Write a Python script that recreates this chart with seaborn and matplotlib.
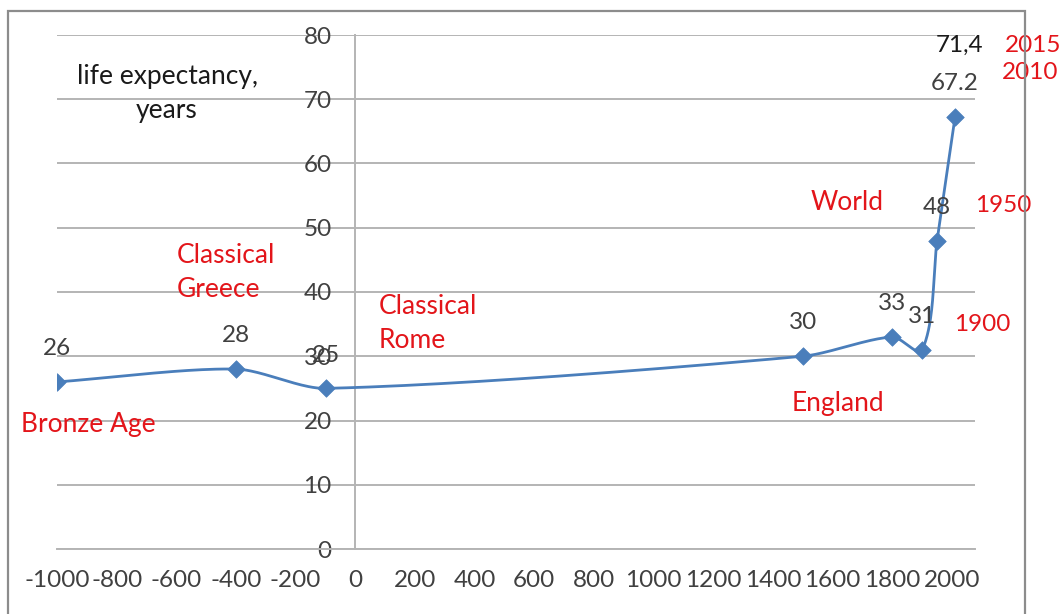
import numpy as np
import pandas as pd
import matplotlib
matplotlib.use("Agg")
import matplotlib.pyplot as plt
from matplotlib.patches import Rectangle
import seaborn as sns

# Life expectancy through history
years = [-1000, -400, -100, 1500, 1800, 1900, 1950, 2010]
life_expectancy = [26, 28, 25, 30, 33, 31, 48, 67.2]
value_labels = ["26", "28", "25", "30", "33", "31", "48", "67.2"]

latest_year = 2015
latest_value = 71.4
latest_label = "71,4"

x_ticks = list(range(-1000, 2001, 200))
y_ticks = list(range(0, 81, 10))

axis_title = "life expectancy,\nyears"
era_names = ["Bronze Age", "Classical\nGreece", "Classical\nRome", "England", "World"]
year_names = ["1900", "1950", "2010", "2015"]

sns.set_style("white")
plt.rcParams["font.family"] = ["Lato", "DejaVu Sans"]

LINE = "#4A7EBB"
RED = "#E3151A"
TXT = "#404040"
GRID = "#B4B4B4"
FS_NUM = 17.5
FS_WORD = 19

fig = plt.figure(figsize=(10.64, 6.14), dpi=100)
ax = fig.add_axes([57 / 1064, 1 - 549 / 614, (975 - 57) / 1064, (549 - 35) / 614])
ax.set_xlim(-1000, 2077)
ax.set_ylim(0, 80)

# spines: x axis at the bottom, y axis crossing at year 0
for side in ("top", "right"):
    ax.spines[side].set_visible(False)
ax.spines["left"].set_position(("data", 0))
for side in ("left", "bottom"):
    ax.spines[side].set_color(GRID)
    ax.spines[side].set_linewidth(1.4)
    ax.spines[side].set_zorder(1)

ax.set_xticks(x_ticks)
ax.set_xticklabels([str(v) for v in x_ticks])
ax.set_yticks(y_ticks)
ax.set_yticklabels([str(v) for v in y_ticks])
ax.tick_params(axis="x", direction="out", length=6, width=1.2, color=GRID,
               pad=9, labelsize=FS_NUM, labelcolor=TXT)
ax.tick_params(axis="y", length=0, pad=17, labelsize=FS_NUM, labelcolor=TXT)
ax.yaxis.grid(True, color=GRID, linewidth=1.4)
ax.xaxis.grid(False)
ax.set_axisbelow(True)


def smooth_path(ax, xs, ys, k=0.28, steps=40):
    """Bezier smoothing of a polyline in display space, handles scaled by segment length."""
    pts = ax.transData.transform(np.column_stack([xs, ys]))
    n = len(pts)

    def unit(v):
        return v / np.hypot(*v)

    tangents = []
    for i in range(n):
        a = pts[max(i - 1, 0)]
        b = pts[min(i + 1, n - 1)]
        tangents.append(unit(b - a))

    out = [pts[0]]
    t = np.linspace(0, 1, steps)[1:, None]
    for i in range(n - 1):
        p1, p2 = pts[i], pts[i + 1]
        L = np.hypot(*(p2 - p1))
        c1 = p1 + tangents[i] * L * k
        c2 = p2 - tangents[i + 1] * L * k
        seg = ((1 - t) ** 3) * p1 + 3 * ((1 - t) ** 2) * t * c1 \
            + 3 * (1 - t) * (t ** 2) * c2 + (t ** 3) * p2
        out.extend(seg)
    return ax.transData.inverted().transform(np.array(out))


df = pd.DataFrame({"year": years, "life": life_expectancy})
curve = smooth_path(ax, df["year"].values, df["life"].values)
curve_df = pd.DataFrame({"year": curve[:, 0], "life": curve[:, 1]})
sns.lineplot(data=curve_df, x="year", y="life", sort=False, color=LINE,
             linewidth=2, ax=ax, zorder=3)
sns.scatterplot(data=df, x="year", y="life", marker="D", s=80, color=LINE,
                edgecolor=LINE, linewidth=0.5, ax=ax, zorder=4)
ax.set_xlabel("")
ax.set_ylabel("")

# value labels above each point
for x, y, lab in zip(years, life_expectancy, value_labels):
    ax.annotate(lab, (x, y), xytext=(0, 24), textcoords="offset points",
                ha="center", va="center", fontsize=FS_NUM, color=TXT)
ax.annotate(latest_label, (latest_year, latest_value), xytext=(2, 32),
            textcoords="offset points", ha="center", va="center",
            fontsize=FS_NUM, color="#1A1A1A", annotation_clip=False)

# annotations
ax.text(-631, 70.9, axis_title, ha="center", va="center", fontsize=FS_WORD,
        color="#1A1A1A", linespacing=1.45, multialignment="center")
ax.text(-895, 19.3, era_names[0], ha="center", va="center", fontsize=FS_WORD, color=RED)
ax.text(-597, 43.0, era_names[1], ha="left", va="center", fontsize=FS_WORD, color=RED,
        linespacing=1.45)
ax.text(77, 35.1, era_names[2], ha="left", va="center", fontsize=FS_WORD, color=RED,
        linespacing=1.45)
ax.text(1619, 22.7, era_names[3], ha="center", va="center", fontsize=FS_WORD, color=RED)
ax.text(1649, 53.9, era_names[4], ha="center", va="center", fontsize=FS_WORD, color=RED)
ax.text(2102, 34.9, year_names[0], ha="center", va="center", fontsize=FS_NUM, color=RED)
ax.text(2172, 53.5, year_names[1], ha="center", va="center", fontsize=FS_NUM, color=RED)
ax.text(2263, 74.1, year_names[2], ha="center", va="center", fontsize=FS_NUM, color=RED)
ax.text(2273, 78.4, year_names[3], ha="center", va="center", fontsize=FS_NUM, color=RED)

# outer chart border
fig.patches.append(Rectangle((8 / 1064, -0.1), (1025 - 8) / 1064, 1 - 11 / 614 + 0.1,
                             transform=fig.transFigure, fill=False,
                             edgecolor="#8C8C8C", linewidth=1.6))

fig.savefig("out.png", dpi=100)
